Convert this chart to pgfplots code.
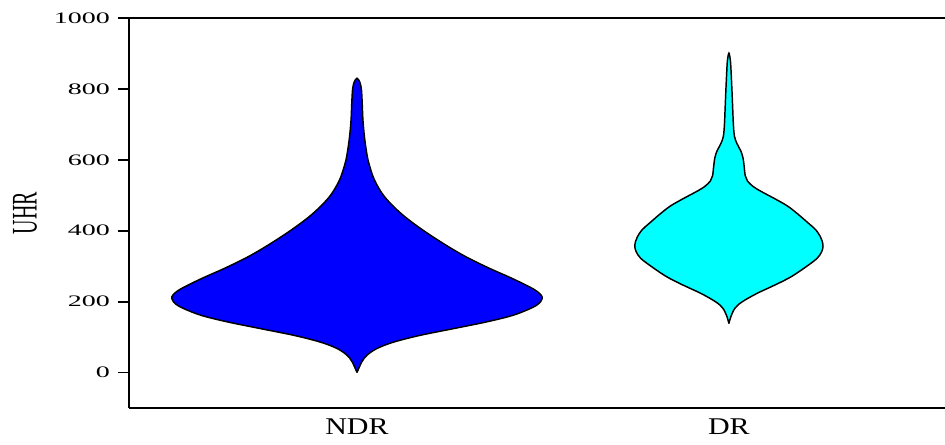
\documentclass[border=0pt]{standalone}
\usepackage{fontspec}
\setmainfont{Liberation Serif}
\usepackage{pgfplots}
\pgfplotsset{compat=1.18}
\definecolor{ndrblue}{RGB}{0,0,255}
\definecolor{drcyan}{RGB}{0,255,255}
\begin{document}
\begin{tikzpicture}
\begin{axis}[
  scale only axis, width=612pt, height=292.5pt,
  xmin=0.387, xmax=2.581, ymin=-100, ymax=1000,
  axis x line=box, axis y line=left,
  axis line style={-, line width=1.4pt, black},
  ytick={0,200,400,600,800,1000}, xtick={1,2}, xticklabels={NDR,DR},
  tick align=outside, major tick length=8.25pt,
  ytick style={line width=1.4pt, black},
  xtick style={draw=none},
  /pgf/number format/assume math mode=true,
  /pgf/number format/1000 sep={},
  yticklabel style={font=\fontsize{12}{14}\selectfont, xscale=1.75},
  xticklabel style={font=\fontsize{18}{21}\selectfont, xscale=1.25, yshift=4pt},
  ylabel={UHR},
  ylabel style={font=\fontsize{15}{18}\selectfont, at={(axis description cs:-0.1275,0.5)}, anchor=center, yscale=1.8},
]
\coordinate (bl) at (rel axis cs:0,0);
\coordinate (tr) at (rel axis cs:1,1);
% NDR violin
\addplot[fill=ndrblue, draw=black, line width=1.1pt, smooth, tension=0.55] coordinates {
(1.000,0) (0.987,30) (0.973,49) (0.946,68) (0.901,86) (0.830,105) (0.740,124) (0.651,143) (0.579,162) (0.525,185) (0.506,200) (0.502,209) (0.506,220) (0.528,237) (0.584,266) (0.644,294) (0.708,327) (0.768,364) (0.830,407) (0.882,449) (0.926,496) (0.953,543) (0.968,590) (0.974,620) (0.980,665) (0.984,712) (0.986,760) (0.988,797) (0.992,818) (1.000,830)
(1.008,818) (1.012,797) (1.014,760) (1.016,712) (1.020,665) (1.026,620) (1.032,590) (1.047,543) (1.074,496) (1.118,449) (1.170,407) (1.232,364) (1.292,327) (1.356,294) (1.416,266) (1.472,237) (1.494,220) (1.498,209) (1.494,200) (1.475,185) (1.421,162) (1.349,143) (1.260,124) (1.170,105) (1.099,86) (1.054,68) (1.027,49) (1.013,30) (1.000,0)
};
% DR violin
\addplot[fill=drcyan, draw=black, line width=1.1pt, smooth, tension=0.55] coordinates {
(2.000,138) (1.995,157) (1.984,181) (1.965,199) (1.925,223) (1.876,247) (1.833,270) (1.793,298) (1.763,322) (1.751,340) (1.747,355) (1.749,370) (1.754,383) (1.766,402) (1.786,421) (1.817,449) (1.843,470) (1.878,491) (1.912,510) (1.934,524) (1.950,540) (1.956,555) (1.959,581) (1.962,605) (1.968,625) (1.978,645) (1.985,666) (1.988,700) (1.990,750) (1.992,800) (1.994,845) (1.996,880) (2.000,901)
(2.004,880) (2.006,845) (2.008,800) (2.010,750) (2.012,700) (2.015,666) (2.022,645) (2.032,625) (2.038,605) (2.041,581) (2.044,555) (2.050,540) (2.066,524) (2.088,510) (2.122,491) (2.157,470) (2.183,449) (2.214,421) (2.234,402) (2.246,383) (2.251,370) (2.253,355) (2.249,340) (2.237,322) (2.207,298) (2.167,270) (2.124,247) (2.075,223) (2.035,199) (2.016,181) (2.005,157) (2.000,138)
};
\end{axis}
\pgfresetboundingbox
\path ([shift={(-96.75pt,-27.75pt)}]bl) rectangle ([shift={(0pt,13.5pt)}]tr);
\end{tikzpicture}
\end{document}
